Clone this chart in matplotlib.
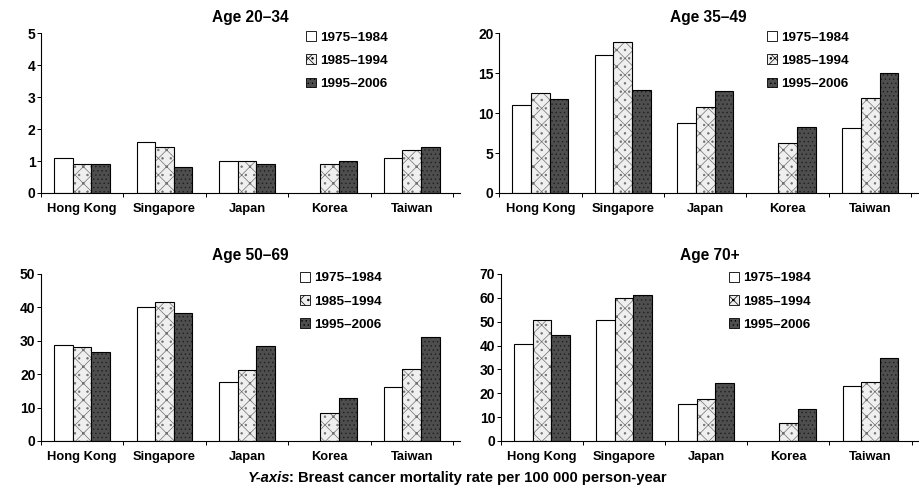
import matplotlib
matplotlib.use("Agg")
import numpy as np
import matplotlib.pyplot as plt
from matplotlib.patches import Patch

plt.rcParams['font.family'] = ['Liberation Sans', 'DejaVu Sans']
plt.rcParams['font.weight'] = 'bold'
plt.rcParams['hatch.linewidth'] = 0.5

countries = ["Hong Kong", "Singapore", "Japan", "Korea", "Taiwan"]
periods = ["1975\u20131984", "1985\u20131994", "1995\u20132006"]

# rates per 100 000 person-year, Korea has no data for 1975-1984
age_20_34 = [[1.1, 1.6, 1.0, 0.0, 1.1],
             [0.9, 1.43, 1.0, 0.9, 1.33],
             [0.9, 0.81, 0.9, 1.0, 1.43]]
age_35_49 = [[11.0, 17.3, 8.8, 0.0, 8.1],
             [12.5, 18.9, 10.7, 6.3, 11.9],
             [11.8, 12.9, 12.7, 8.2, 15.0]]
age_50_69 = [[28.7, 40.1, 17.8, 0.0, 16.1],
             [28.1, 41.6, 21.2, 8.4, 21.7],
             [26.5, 38.3, 28.3, 12.8, 31.1]]
age_70 = [[40.8, 50.9, 15.6, 0.0, 22.9],
          [50.9, 59.9, 17.7, 7.4, 24.9],
          [44.5, 61.2, 24.1, 13.6, 34.9]]

panels = [
    ("Age 20\u201334", age_20_34, 5, 1, [0.0446, 0.6037, 0.4554, 0.3283], 0.64, 8),
    ("Age 35\u201349", age_35_49, 20, 5, [0.543, 0.6037, 0.456, 0.3283], 0.646, 8),
    ("Age 50\u201369", age_50_69, 50, 10, [0.0446, 0.0945, 0.4554, 0.3429], 0.625, 10),
    ("Age 70+", age_70, 70, 10, [0.545, 0.0945, 0.454, 0.3429], 0.553, 10),
]

styles = [
    dict(face="white", hatch=None, hc="white"),
    dict(face="#efefef", hatch="xx..", hc="#707070"),
    dict(face="#4e4e4e", hatch="....", hc="#1e1e1e"),
]

fig = plt.figure(figsize=(9.19, 4.87), dpi=100)
w = 0.226
x = np.arange(len(countries))

for title, data, ymax, step, pos, legx, pad in panels:
    ax = fig.add_axes(pos)
    for i, vals in enumerate(data):
        st = styles[i]
        xs = x + (i - 1) * w
        for xi, v in zip(xs, vals):
            if v <= 0:
                continue
            ax.bar(xi, v, w, color=st["face"], hatch=st["hatch"],
                   edgecolor=st["hc"], linewidth=0)
            ax.bar(xi, v, w, fill=False, edgecolor="black", linewidth=0.8)
    ax.set_xlim(-0.5, 4.58)
    ax.set_ylim(0, ymax)
    ax.set_yticks(np.arange(0, ymax + step, step))
    ax.set_xticks(x)
    ax.set_xticklabels(countries, fontsize=9.3, fontweight="bold")
    ax.set_xticks(np.arange(-0.5, 4.6, 1), minor=True)
    ax.tick_params(axis="x", which="major", length=0, pad=7)
    ax.tick_params(axis="x", which="minor", length=3, width=0.7)
    ax.tick_params(axis="y", length=3, width=0.7, labelsize=10, pad=1)
    for lab in ax.get_yticklabels():
        lab.set_fontweight("bold")
    for s in ["top", "right"]:
        ax.spines[s].set_visible(False)
    ax.spines["left"].set_linewidth(0.8)
    ax.spines["bottom"].set_linewidth(0.8)
    ax.set_title(title, fontsize=11.2, fontweight="bold", pad=pad)

    handles = [Patch(facecolor=st["face"], hatch=st["hatch"], edgecolor="black",
                     linewidth=0.6) for st in styles]
    ax.legend(handles, periods, loc="upper left", bbox_to_anchor=(legx - 0.02, 1.045),
              frameon=False, fontsize=9.7, handlelength=0.75, handleheight=0.75,
              handletextpad=0.3, labelspacing=0.78, borderaxespad=0)

t1 = fig.text(0.27, 0.018, "Y-axis", fontsize=10.6, fontweight="bold",
              style="italic", va="center", ha="left")
plt.annotate(": Breast cancer mortality rate per 100 000 person-year",
             xy=(0.97, 0.5), xycoords=t1, va="center", ha="left",
             fontsize=10.6, fontweight="bold", annotation_clip=False)

fig.savefig("out.png", dpi=100)
